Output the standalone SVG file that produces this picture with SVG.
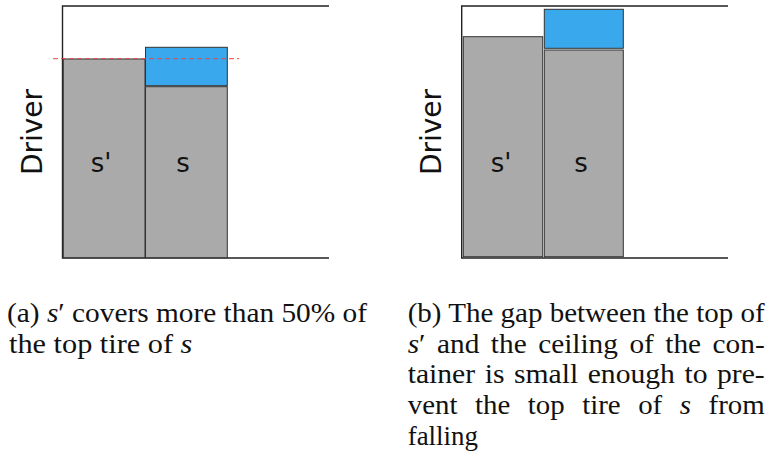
<svg xmlns="http://www.w3.org/2000/svg" width="770" height="457" viewBox="0 0 770 457">
<style>
.frame{fill:none;stroke:#222;stroke-width:1.4}
.tire{fill:#aaaaaa;stroke:#333;stroke-width:1}
.top{fill:#3aa8ec;stroke:#333;stroke-width:1}
.lbl{font-family:"DejaVu Sans",sans-serif;font-size:26px;fill:#111;text-anchor:middle}
.drv{font-family:"DejaVu Sans",sans-serif;font-size:28px;fill:#111;text-anchor:middle}
.cap{font-family:"Liberation Serif",serif;font-size:28px;fill:#111}
.it{font-style:italic}
</style>
<rect width="770" height="457" fill="#fff"/>
<g id="panel-a">
  <path class="frame" d="M329,6 H62.5 V258 H329"/>
  <g id="a-sprime"><rect class="tire" x="63.3" y="59" width="81.7" height="198.7"/><text class="lbl" x="101" y="172">s'</text></g>
  <g id="a-s"><rect class="tire" x="145.5" y="86.7" width="81.8" height="171"/><text class="lbl" x="183" y="172">s</text></g>
  <g id="a-toptire"><rect class="top" x="145.5" y="47.3" width="81.8" height="38.4"/></g>
  <line x1="53" y1="58.7" x2="239" y2="58.7" stroke="#f04040" stroke-width="1" stroke-dasharray="5,3"/>
  <text class="drv" transform="translate(42,132) rotate(-90)">Driver</text>
</g>
<g id="panel-b">
  <path class="frame" d="M728,6 H461.7 V258 H728"/>
  <g id="b-sprime"><rect class="tire" x="463.3" y="36.7" width="79.4" height="220"/><text class="lbl" x="501" y="172">s'</text></g>
  <g id="b-s"><rect class="tire" x="544.3" y="50" width="79" height="206.7"/><text class="lbl" x="581" y="172">s</text></g>
  <g id="b-toptire"><rect class="top" x="544.3" y="9.3" width="79" height="39"/></g>
  <text class="drv" transform="translate(441,132) rotate(-90)">Driver</text>
</g>
<g id="captions">
  <text class="cap" x="7" y="322.3" textLength="360" lengthAdjust="spacingAndGlyphs">(a) <tspan class="it">s</tspan>′ covers more than 50% of</text>
  <text class="cap" x="9" y="353.3" textLength="183.4" lengthAdjust="spacingAndGlyphs">the top tire of <tspan class="it">s</tspan></text>
  <text class="cap" x="407.7" y="322.3" textLength="357" lengthAdjust="spacingAndGlyphs">(b) The gap between the top of</text>
  <text class="cap" x="407.7" y="353.3" textLength="357" lengthAdjust="spacingAndGlyphs" word-spacing="4"><tspan class="it">s</tspan>′ and the ceiling of the con-</text>
  <text class="cap" x="407.7" y="383.3" textLength="357" lengthAdjust="spacingAndGlyphs" word-spacing="2">tainer is small enough to pre-</text>
  <text class="cap" x="407.7" y="414" textLength="357" lengthAdjust="spacingAndGlyphs" word-spacing="10">vent the top tire of <tspan class="it">s</tspan> from</text>
  <text class="cap" x="407.7" y="445" textLength="70.3" lengthAdjust="spacingAndGlyphs">falling</text>
</g>
</svg>
